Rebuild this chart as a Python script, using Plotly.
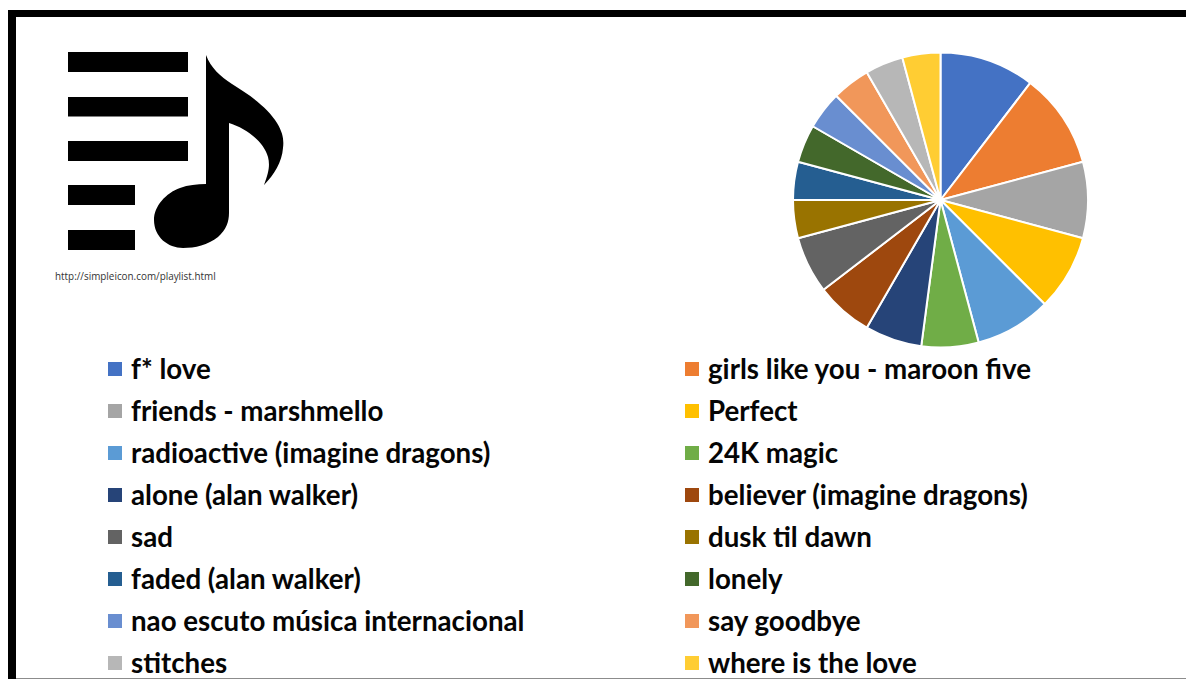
import plotly.graph_objects as go

# Votes per song, in pie order (clockwise from twelve o'clock)
songs = [
    "f* love", "girls like you - maroon five", "friends - marshmello", "Perfect",
    "radioactive (imagine dragons)", "24K magic", "alone (alan walker)",
    "believer (imagine dragons)", "sad", "dusk til dawn", "faded (alan walker)",
    "lonely", "nao escuto música internacional", "say goodbye", "stitches",
    "where is the love",
]
votes = [5, 5, 4, 4, 4, 3, 3, 3, 3, 2, 2, 2, 2, 2, 2, 2]
colors = [
    "#4472C4", "#ED7D31", "#A5A5A5", "#FFC000", "#5B9BD5", "#70AD47", "#264478",
    "#9E480E", "#636363", "#997300", "#255E91", "#43682B", "#698ED0", "#F1975A",
    "#B7B7B7", "#FFCD33",
]
source_note = "http://simpleicon.com/playlist.html"

W, H = 1186, 679
FONT = "Lato"

# Two-column key, filled row by row
swatch_col = [115, 692]
text_col = [131, 708]
swatch_y = [369 + 42 * (i // 2) for i in range(len(songs))]
label_y = [372 + 42 * (i // 2) for i in range(len(songs))]
swatch_x = [swatch_col[i % 2] for i in range(len(songs))]
label_x = [text_col[i % 2] for i in range(len(songs))]

fig = go.Figure()

fig.add_trace(go.Pie(
    labels=songs, values=votes, sort=False, direction="clockwise", rotation=0,
    textinfo="none", showlegend=False,
    marker=dict(colors=colors, line=dict(color="white", width=2)),
    domain=dict(x=[793.0 / W, 1088.0 / W], y=[1 - 347.5 / H, 1 - 52.5 / H]),
))

fig.add_trace(go.Scatter(
    x=swatch_x, y=swatch_y, mode="markers", hoverinfo="skip", showlegend=False,
    marker=dict(symbol="square", size=14, color=colors, line=dict(width=0)),
))
fig.add_trace(go.Scatter(
    x=label_x, y=label_y, mode="text", text=songs, textposition="middle right",
    textfont=dict(family=FONT, size=27.7, color="#050505", weight=700),
    hoverinfo="skip", showlegend=False,
))

# Page frame
shapes = [
    dict(type="rect", x0=8, x1=W, y0=10, y1=17, fillcolor="black", line_width=0),
    dict(type="rect", x0=8, x1=16, y0=10, y1=H, fillcolor="black", line_width=0),
    dict(type="rect", x0=16, x1=W, y0=678, y1=H, fillcolor="#8c8c8c", line_width=0),
]

# Playlist icon: five bars and a quaver
for x1, y0, y1 in [(188, 52, 72), (188, 97, 116.5), (188, 141, 161), (135, 185, 205), (135, 230, 250)]:
    shapes.append(dict(type="rect", x0=68, x1=x1, y0=y0, y1=y1, fillcolor="black", line_width=0))
shapes.append(dict(
    type="path", fillcolor="black", line_width=0,
    path=("M206,55 C211,68 220,76 232,84 C250,95 268,108 277,123 C283,133 284,140 283,148 "
          "C282,162 274,175 264,185 C269,172 270,165 268,157 C264,142 246,128 229,123 L229,213 "
          "C229,222 226,230 218,237 C208,245 195,248 183,248 C168,248 154,237 154,220 "
          "C154,206 166,193 180,188 C188,185 197,184 206,184 Z"),
))

fig.update_layout(
    width=W, height=H, margin=dict(l=0, r=0, t=0, b=0),
    paper_bgcolor="white", plot_bgcolor="rgba(0,0,0,0)",
    xaxis=dict(range=[0, W], visible=False, fixedrange=True),
    yaxis=dict(range=[H, 0], visible=False, fixedrange=True),
    shapes=shapes,
    annotations=[dict(
        x=53.5, y=276, xref="x", yref="y", text=source_note, showarrow=False,
        xanchor="left", yanchor="middle", borderpad=0,
        font=dict(family="Open Sans", size=9.9, color="#333333"),
    )],
)

fig.write_html("out.html")
